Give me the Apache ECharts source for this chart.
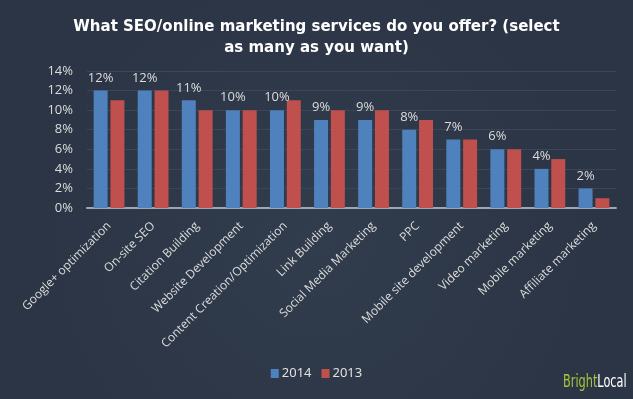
<!DOCTYPE html>
<html>
<head>
<meta charset="utf-8">
<script src="https://cdn.jsdelivr.net/npm/echarts@6/dist/echarts.min.js"></script>
<style>
html, body { margin: 0; padding: 0; background: #2d3747; }
#main { width: 633px; height: 399px; }
</style>
</head>
<body>
<div id="main"></div>
<script>
var categories = ['Google+ optimization', 'On-site SEO', 'Citation Building', 'Website Development',
    'Content Creation/Optimization', 'Link Building', 'Social Media Marketing', 'PPC',
    'Mobile site development', 'Video marketing', 'Mobile marketing', 'Affiliate marketing'];
var values2014 = [12, 12, 11, 10, 10, 9, 9, 8, 7, 6, 4, 2];
var values2013 = [11, 12, 10, 10, 11, 10, 10, 9, 7, 6, 5, 1];

var myChart = echarts.init(document.getElementById('main'));

var option = {
    backgroundColor: {
        type: 'radial', x: 0.5, y: 0.6, r: 0.7,
        colorStops: [{ offset: 0, color: '#313c4d' }, { offset: 1, color: '#2b3545' }]
    },
    title: {
        text: 'What SEO/online marketing services do you offer? (select\nas many as you want)',
        left: 'center',
        top: 12,
        textStyle: {
            color: '#ffffff',
            fontFamily: 'DejaVu Sans',
            fontWeight: 'bold',
            fontSize: 15,
            lineHeight: 21
        }
    },
    legend: {
        data: ['2014', '2013'],
        bottom: 14,
        left: 'center',
        itemWidth: 8,
        itemHeight: 9,
        itemGap: 10,
        icon: 'rect',
        textStyle: { color: '#e0e0e0', fontSize: 13, fontFamily: 'Noto Sans', padding: [0, 0, 0, -2] }
    },
    // logo, squeezed to look like the narrow original
    graphic: [{
        type: 'text',
        x: 563,
        y: 383,
        scaleX: 0.74,
        style: {
            rich: {
                a: { fill: '#a5c63b', fontSize: 17, fontFamily: 'DejaVu Sans Condensed' },
                b: { fill: '#ffffff', fontSize: 17, fontFamily: 'DejaVu Sans Condensed' }
            },
            text: '{a|Bright}{b|Local}',
            verticalAlign: 'middle'
        }
    }],
    grid: { left: 87, right: 17, top: 71, height: 137 },
    xAxis: {
        type: 'category',
        data: categories,
        axisLine: { lineStyle: { color: '#a0a6ae', width: 2 } },
        axisTick: { show: false },
        axisLabel: {
            rotate: 45,
            interval: 0,
            color: '#dcdcdc',
            fontSize: 12,
            fontFamily: 'Open Sans',
            margin: 16
        }
    },
    yAxis: {
        type: 'value',
        min: 0,
        max: 14,
        interval: 2,
        axisLine: { show: false },
        axisTick: { show: false },
        axisLabel: {
            formatter: '{value}%',
            color: '#dcdcdc',
            fontSize: 13,
            fontFamily: 'Open Sans',
            margin: 14
        },
        splitLine: { lineStyle: { color: '#3b4656', width: 1 } }
    },
    series: [{
        name: '2014',
        type: 'bar',
        data: values2014,
        barWidth: 14,
        barGap: '20%',
        itemStyle: { color: '#4f81bd' },
        label: {
            show: true,
            position: 'top',
            distance: 6,
            formatter: '{c}%',
            color: '#dcdcdc',
            fontSize: 13,
            fontFamily: 'Open Sans'
        }
    }, {
        name: '2013',
        type: 'bar',
        data: values2013,
        barWidth: 14,
        itemStyle: { color: '#c0504d' }
    }]
};

myChart.setOption(option);
</script>
</body>
</html>
